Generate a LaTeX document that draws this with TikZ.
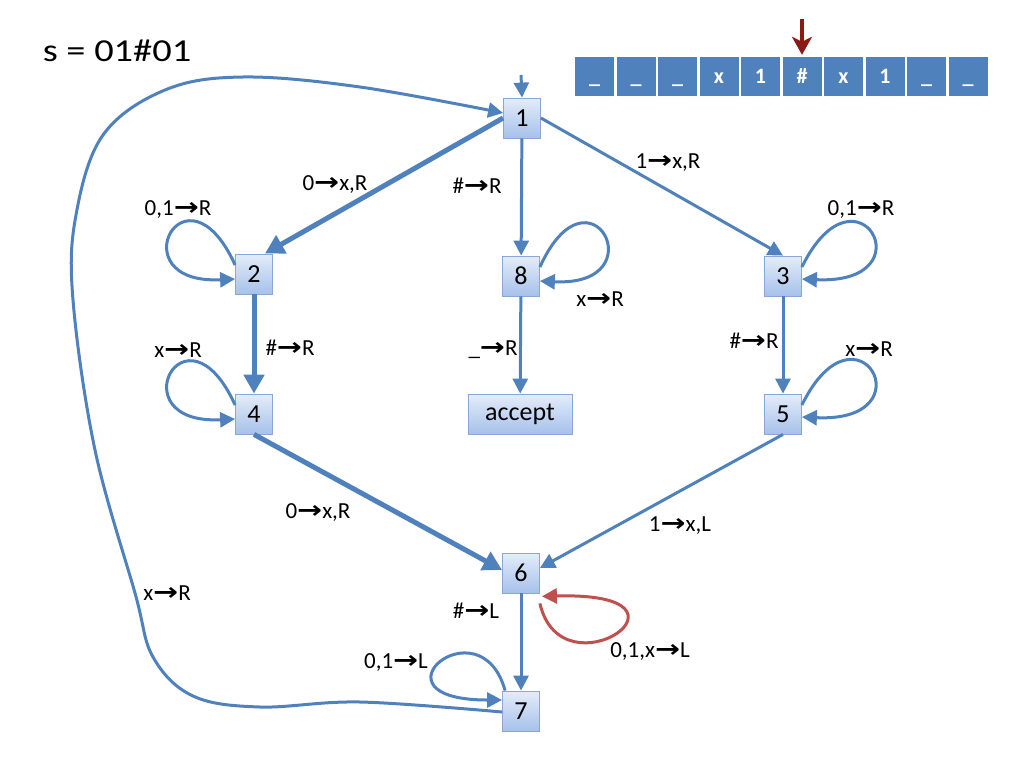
\documentclass[tikz,border=0pt]{standalone}
\usepackage{fontspec}
\usepackage{graphicx}
\setmainfont{Carlito}[Numbers=Lining]
\newfontfamily\arrfont{DejaVu Sans}
\usetikzlibrary{arrows.meta}
\newcommand{\ra}{\scalebox{1.3}[1.05]{\arrfont\bfseries →}}
\definecolor{eblue}{HTML}{4F81BD}
\definecolor{stop}{HTML}{E4ECF9}
\definecolor{sbot}{HTML}{A6C1EA}
\definecolor{sbord}{HTML}{8AA8D6}
\definecolor{lred}{HTML}{C0504D}
\definecolor{dred}{HTML}{8C1A14}
\begin{document}
\begin{tikzpicture}[x=1pt,y=-1pt,
  state/.style={draw=sbord, line width=0.8pt, top color=stop, bottom color=sbot,
    minimum width=37pt, minimum height=40pt, inner sep=2pt, font=\fontsize{26}{30}\selectfont},
  tr/.style={draw=eblue, line width=3pt, -{Triangle[length=15pt,width=15pt]}},
  trthick/.style={draw=eblue, line width=5pt, -{Triangle[length=19pt,width=20pt]}},
  trred/.style={draw=lred, line width=3pt, -{Triangle[length=15pt,width=15pt]}},
  lab/.style={font=\fontsize{23}{27}\selectfont, anchor=base, inner sep=0pt},
  cell/.style={fill=eblue, minimum width=39pt, minimum height=39pt, inner sep=0pt,
    text=white, font=\fontsize{22}{25}\selectfont\bfseries, text height=16pt, text depth=3pt},
  headarr/.style={draw=dred, line width=4pt, -{Stealth[length=18pt,width=20pt,inset=5pt]}}
]
\useasboundingbox (0,0) rectangle (1024,768);

% title
\node[font=\fontsize{32}{36}\selectfont, anchor=base, inner sep=0pt, xscale=1.2] (title) at (117,62) {s = 01\#01};

% tape
\foreach \t [count=\i] in {\_,\_,\_,x,1,\#,x,1,\_,\_}
  \node[cell] (c\i) at ({594.5+(\i-1)*41.5},76.5) {\t};
\coordinate (hs) at (802,19);
\draw[headarr] (hs) -- ([yshift=2pt]c6.north);

% states
\node[state] (1) at (522,118) {1};
\node[state] (2) at (254,274) {2};
\node[state] (8) at (521,276) {8};
\node[state] (3) at (783,276) {3};
\node[state] (4) at (254,414) {4};
\node[state, minimum width=104pt] (acc) at (520,414) {accept};
\node[state] (5) at (783,414) {5};
\node[state] (6) at (521,573) {6};
\node[state] (7) at (521,711) {7};

% initial
\coordinate (init) at (521,75);
\draw[tr] (init) -- (1.north);

% transitions
\draw[trthick] (1.west) -- ([xshift=-8pt]2.north east);
\draw[tr] (1) -- (8);
\draw[tr] (1.east) -- (3.north);
\draw[trthick] (2) -- (4);
\draw[tr] (8) -- (acc);
\draw[tr] (3) -- (5);
\draw[trthick] (4.south) -- ([yshift=3pt]6.west);
\draw[tr] (5.south) -- ([yshift=5pt]6.east);
\draw[tr] (6) -- (7);

% self loops
\draw[tr] ([yshift=9pt]2.west) .. controls +(-50,-110) and +(-118,6) .. ([yshift=-5pt]2.west);
\draw[tr] ([yshift=9pt]4.west) .. controls +(-50,-110) and +(-118,6) .. ([yshift=-5pt]4.west);
\draw[tr] ([yshift=9pt]8.east) .. controls +(50,-110) and +(118,6) .. ([yshift=-5pt]8.east);
\draw[tr] ([yshift=9pt]3.east) .. controls +(55,-112) and +(128,6) .. ([yshift=-3pt]3.east);
\draw[tr] ([yshift=9pt]5.east) .. controls +(55,-112) and +(128,6) .. ([yshift=-3pt]5.east);
\draw[tr] ([xshift=3pt]7.north west) .. controls +(-25,-90) and +(-140,0) .. ([yshift=11pt]7.west);
\draw[trred] ([yshift=-10pt]6.south east) .. controls +(22,95) and +(175,-5) .. ([xshift=2pt,yshift=-3pt]6.south east);

% long return 7 -> 1
\draw[tr] plot[smooth, tension=0.6] coordinates {([yshift=-1pt]7.west) (360,702) (260,707) (193,696) (153,657) (135,593) (95,450) (73,300) (76,215) (103,135) (165,90) (243,77) (360,87) ([yshift=5pt]1.west)};

% labels
\node[lab] (l12) at (335,190) {0\ra x,R};
\node[lab] (l18) at (477,193) {\#\ra R};
\node[lab] (l13) at (668,168) {1\ra x,R};
\node[lab] (l22) at (178,215) {0,1\ra R};
\node[lab] (l88) at (600,306) {x\ra R};
\node[lab] (l33) at (861,215) {0,1\ra R};
\node[lab] (l24) at (290,355) {\#\ra R};
\node[lab] (l8a) at (493,355) {\_\ra R};
\node[lab] (l35) at (754,348) {\#\ra R};
\node[lab] (l44) at (178,357) {x\ra R};
\node[lab] (l55) at (869,356) {x\ra R};
\node[lab] (l46) at (318,518) {0\ra x,R};
\node[lab] (l56) at (680,531) {1\ra x,L};
\node[lab] (l71) at (167,600) {x\ra R};
\node[lab] (l67) at (476,618) {\#\ra L};
\node[lab] (l77) at (396,668) {0,1\ra L};
\node[lab] (l66) at (650,657) {0,1,x\ra L};
\end{tikzpicture}
\end{document}
